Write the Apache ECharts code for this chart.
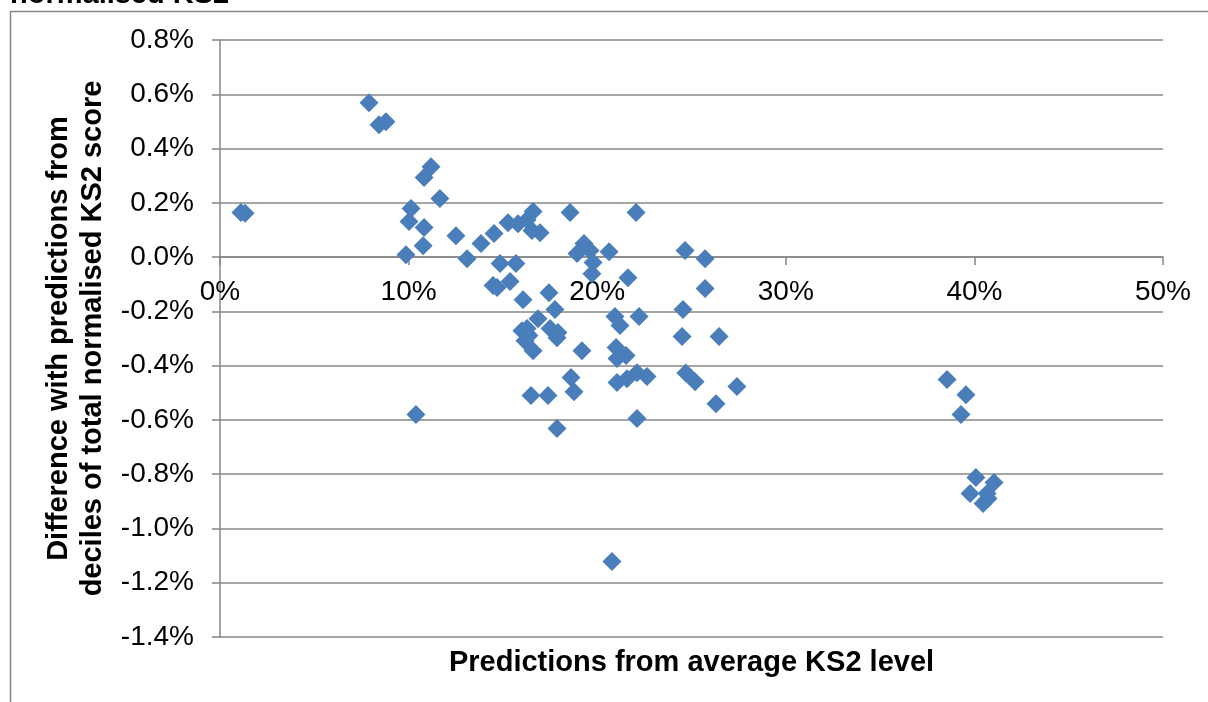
<!DOCTYPE html>
<html>
<head>
<meta charset="utf-8">
<script src="https://cdn.jsdelivr.net/npm/echarts@6/dist/echarts.min.js"></script>
<style>
html,body{margin:0;padding:0;background:#fff;}
#chart{width:1208px;height:702px;}
</style>
</head>
<body>
<div id="chart"></div>
<script>
// Predictions from average KS2 level (%)
const xValues = [
  1.11, 1.33, 7.90, 8.43, 8.80, 11.19, 10.82, 11.66, 10.13, 10.02,
  10.82, 10.77, 9.86, 12.51, 13.10, 13.84, 14.53, 10.39, 15.27, 15.80,
  16.28, 16.60, 16.54, 16.97, 18.56, 22.06, 14.85, 15.69, 14.48, 14.69,
  15.38, 16.07, 17.44, 17.76, 16.86, 16.01, 16.17, 16.60, 16.28, 16.38,
  17.50, 17.87, 17.92, 19.19, 18.93, 19.30, 19.62, 19.78, 19.72, 20.63,
  21.63, 20.94, 21.21, 22.22, 21.00, 21.05, 21.53, 21.05, 21.58, 22.11,
  22.64, 18.61, 18.77, 16.49, 17.39, 17.87, 22.11, 24.66, 25.72, 25.72,
  24.55, 24.50, 26.46, 24.70, 25.19, 26.30, 27.41, 38.55, 39.55, 39.29,
  40.08, 41.04, 39.77, 40.67, 40.46, 40.72, 20.78
];
// Difference with predictions from deciles of total normalised KS2 score (%)
const yValues = [
  0.164, 0.162, 0.569, 0.488, 0.499, 0.333, 0.293, 0.216, 0.179, 0.131,
  0.109, 0.042, 0.009, 0.079, -0.006, 0.050, 0.087, -0.580, 0.127, 0.123,
  0.138, 0.168, 0.098, 0.090, 0.164, 0.164, -0.024, -0.024, -0.105, -0.112,
  -0.090, -0.157, -0.131, -0.193, -0.227, -0.271, -0.308, -0.345, -0.263, -0.289,
  -0.263, -0.297, -0.278, -0.345, 0.013, 0.050, 0.024, -0.020, -0.061, 0.020,
  -0.076, -0.219, -0.252, -0.219, -0.333, -0.374, -0.363, -0.462, -0.448, -0.426,
  -0.440, -0.444, -0.496, -0.510, -0.510, -0.632, -0.595, 0.024, -0.006, -0.116,
  -0.193, -0.293, -0.293, -0.427, -0.459, -0.540, -0.477, -0.451, -0.507, -0.580,
  -0.812, -0.831, -0.871, -0.871, -0.908, -0.890, -1.122
];
const xAxisTitle = 'Predictions from average KS2 level';
const yAxisTitle = 'Difference with predictions from\ndeciles of total normalised KS2 score';
const topTitle = 'normalised KS2';

const points = xValues.map((x, i) => [x, yValues[i]]);
const gray = '#878787';
const font = 'Liberation Sans, Arial, sans-serif';

// grid geometry
const gridTop = 40, gridBottom = 65, chartH = 702;
const yMin = -1.4, yMax = 0.8;
const plotH = chartH - gridTop - gridBottom;
// move the x axis up from the grid bottom to the zero line
const zeroOffset = -Math.round(plotH * (0 - yMin) / (yMax - yMin));

const chart = echarts.init(document.getElementById('chart'));
chart.setOption({
  animation: false,
  backgroundColor: '#fff',
  grid: { left: 220, right: 45, top: gridTop, bottom: gridBottom, containLabel: false, outerBoundsMode: 'none' },
  graphic: [
    { type: 'rect', left: 8, top: 9, shape: { width: 1300, height: 800 },
      style: { fill: 'none', stroke: gray, lineWidth: 1.5 }, silent: true },
    { type: 'text', x: 10, y: 9,
      style: { text: topTitle, fill: '#000', font: 'bold 29px ' + font, textVerticalAlign: 'bottom' } }
  ],
  xAxis: {
    type: 'value', min: 0, max: 50, interval: 10,
    position: 'bottom', offset: zeroOffset,
    axisLine: { onZero: false, lineStyle: { color: gray, width: 1.5 } },
    axisTick: { show: true, length: 8, inside: false, lineStyle: { color: gray, width: 1.5 } },
    splitLine: { show: false },
    axisLabel: { formatter: v => v.toFixed(0) + '%', color: '#000', fontSize: 28, fontFamily: font, margin: 21 },
    name: xAxisTitle, nameLocation: 'middle', nameGap: 391,
    nameTextStyle: { color: '#000', fontSize: 29, fontWeight: 'bold', fontFamily: font }
  },
  yAxis: {
    type: 'value', min: yMin, max: yMax, interval: 0.2,
    axisLine: { show: true, onZero: false, lineStyle: { color: gray, width: 1.5 } },
    axisTick: { show: true, length: 8, lineStyle: { color: gray, width: 1.5 } },
    splitLine: { show: true, lineStyle: { color: gray, width: 1.5 } },
    axisLabel: { formatter: v => v.toFixed(1) + '%', color: '#000', fontSize: 28, fontFamily: font, margin: 26 },
    name: yAxisTitle, nameLocation: 'middle', nameGap: 104,
    nameTextStyle: { color: '#000', fontSize: 29, fontWeight: 'bold', fontFamily: font, lineHeight: 34 }
  },
  series: [{
    type: 'scatter',
    data: points,
    symbol: 'diamond',
    symbolSize: 19,
    itemStyle: { color: '#4a7ebb', opacity: 1 }
  }]
});
</script>
</body>
</html>
